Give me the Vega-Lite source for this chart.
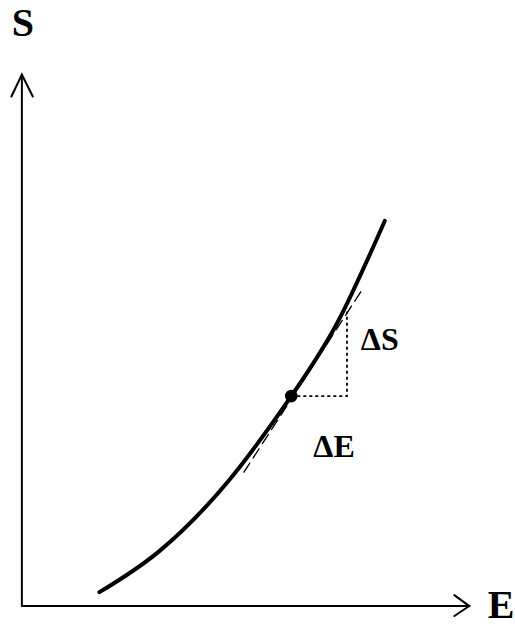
{
  "$schema": "https://vega.github.io/schema/vega-lite/v6.json",
  "width": 515,
  "height": 626,
  "autosize": {"type": "fit", "contains": "padding"},
  "padding": 0,
  "background": "white",
  "config": {"view": {"stroke": null}},
  "encoding": {
    "x": {"field": "E", "type": "quantitative", "scale": {"domain": [0, 515], "nice": false, "zero": false}, "axis": null},
    "y": {"field": "S", "type": "quantitative", "scale": {"domain": [0, 626], "nice": false, "zero": false}, "axis": null}
  },
  "layer": [
    {
      "data": {"values": [
        {"seg": "y", "E": 22, "S": 17, "i": 0},
        {"seg": "y", "E": 22, "S": 551, "i": 1},
        {"seg": "x", "E": 22, "S": 17, "i": 0},
        {"seg": "x", "E": 472, "S": 17, "i": 1},
        {"seg": "ay", "E": 11.5, "S": 529, "i": 0},
        {"seg": "ay", "E": 22, "S": 551, "i": 1},
        {"seg": "ay", "E": 33, "S": 529, "i": 2},
        {"seg": "ax", "E": 457, "S": 28, "i": 0},
        {"seg": "ax", "E": 472, "S": 17, "i": 1},
        {"seg": "ax", "E": 457, "S": 7, "i": 2}
      ]},
      "mark": {"type": "line", "color": "black", "strokeWidth": 2, "strokeCap": "round", "strokeJoin": "miter"},
      "encoding": {"detail": {"field": "seg"}, "order": {"field": "i"}}
    },
    {
      "data": {"values": [
        {"E": 245, "S": 151, "i": 0},
        {"E": 365, "S": 336, "i": 1}
      ]},
      "mark": {"type": "line", "color": "black", "strokeWidth": 1.3, "strokeDash": [12, 5]},
      "encoding": {"order": {"field": "i"}}
    },
    {
      "data": {"values": [
        {"E": 100, "S": 31, "i": 0},
        {"E": 160, "S": 72, "i": 1},
        {"E": 230, "S": 143, "i": 2},
        {"E": 293, "S": 228, "i": 3},
        {"E": 340, "S": 303, "i": 4},
        {"E": 387, "S": 404, "i": 5}
      ]},
      "mark": {"type": "line", "color": "black", "strokeWidth": 4, "strokeCap": "round", "interpolate": "natural"},
      "encoding": {"order": {"field": "i"}}
    },
    {
      "data": {"values": [
        {"E": 293, "S": 228, "i": 0},
        {"E": 349, "S": 228, "i": 1},
        {"E": 349, "S": 313, "i": 2}
      ]},
      "mark": {"type": "line", "color": "black", "strokeWidth": 1.8, "strokeDash": [3, 3]},
      "encoding": {"order": {"field": "i"}}
    },
    {
      "data": {"values": [{"E": 293, "S": 228}]},
      "mark": {"type": "point", "filled": true, "color": "black", "size": 160, "opacity": 1}
    },
    {
      "data": {"values": [
        {"E": 23, "S": 602, "label": "S"},
        {"E": 504, "S": 17, "label": "E"}
      ]},
      "mark": {"type": "text", "font": "Liberation Serif", "fontWeight": "bold", "fontSize": 40, "align": "center", "baseline": "middle", "color": "black"},
      "encoding": {"text": {"field": "label"}}
    },
    {
      "data": {"values": [
        {"E": 382, "S": 284, "label": "ΔS"},
        {"E": 336, "S": 177, "label": "ΔE"}
      ]},
      "mark": {"type": "text", "font": "Liberation Serif", "fontWeight": "bold", "fontSize": 32, "align": "center", "baseline": "middle", "color": "black"},
      "encoding": {"text": {"field": "label"}}
    }
  ]
}
